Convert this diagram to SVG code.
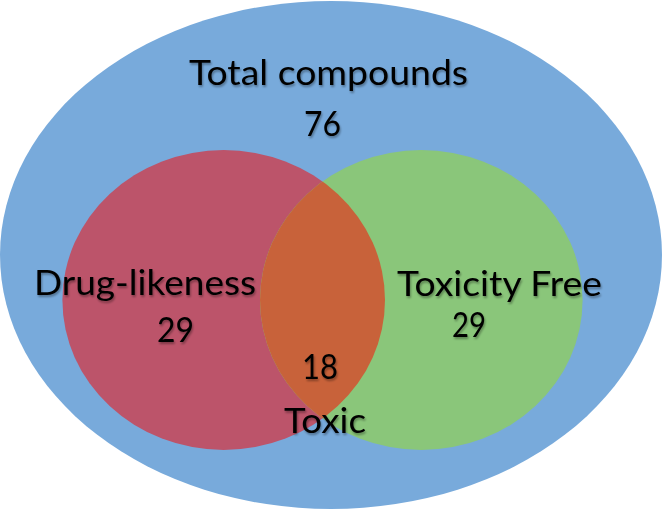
<svg xmlns="http://www.w3.org/2000/svg" width="662" height="511" viewBox="0 0 662 511">
  <style>
    .lbl { font-family: Lato, "Liberation Sans", sans-serif; font-size: 34px; fill: #000; }
  </style>
  <defs>
    <clipPath id="redClip">
      <ellipse cx="223.7" cy="300" rx="161.3" ry="150"/>
    </clipPath>
    <filter id="sh" x="-10%" y="-10%" width="120%" height="130%">
      <feGaussianBlur in="SourceAlpha" stdDeviation="1"/>
      <feOffset dx="1" dy="1.5" result="b"/>
      <feComponentTransfer><feFuncA type="linear" slope="0.35"/></feComponentTransfer>
      <feMerge><feMergeNode/><feMergeNode in="SourceGraphic"/></feMerge>
    </filter>
  </defs>
  <rect width="662" height="511" fill="#ffffff"/>
  <g id="total">
    <ellipse cx="331" cy="255" rx="331" ry="254" fill="#78AADB"/>
  </g>
  <g id="drug-likeness">
    <ellipse cx="223.7" cy="300" rx="161.3" ry="150" fill="#BC546A"/>
  </g>
  <g id="toxicity-free">
    <ellipse cx="421.3" cy="300" rx="161.3" ry="150" fill="#8AC67A"/>
  </g>
  <g id="toxic">
    <ellipse cx="421.3" cy="300" rx="161.3" ry="150" fill="#C8623A" clip-path="url(#redClip)"/>
  </g>
  <g id="labels" filter="url(#sh)">
    <text class="lbl" x="189" y="85" textLength="279" lengthAdjust="spacingAndGlyphs">Total compounds</text>
    <text class="lbl" x="304" y="136" textLength="37" lengthAdjust="spacingAndGlyphs">76</text>
    <text class="lbl" x="34" y="295" textLength="222" lengthAdjust="spacingAndGlyphs">Drug-likeness</text>
    <text class="lbl" x="157" y="342" textLength="37" lengthAdjust="spacingAndGlyphs">29</text>
    <text class="lbl" x="397" y="296" textLength="205" lengthAdjust="spacingAndGlyphs">Toxicity Free</text>
    <text class="lbl" x="452" y="337" textLength="34" lengthAdjust="spacingAndGlyphs">29</text>
    <text class="lbl" x="302" y="379" textLength="36" lengthAdjust="spacingAndGlyphs">18</text>
    <text class="lbl" x="284" y="433" textLength="82" lengthAdjust="spacingAndGlyphs">Toxic</text>
  </g>
</svg>
